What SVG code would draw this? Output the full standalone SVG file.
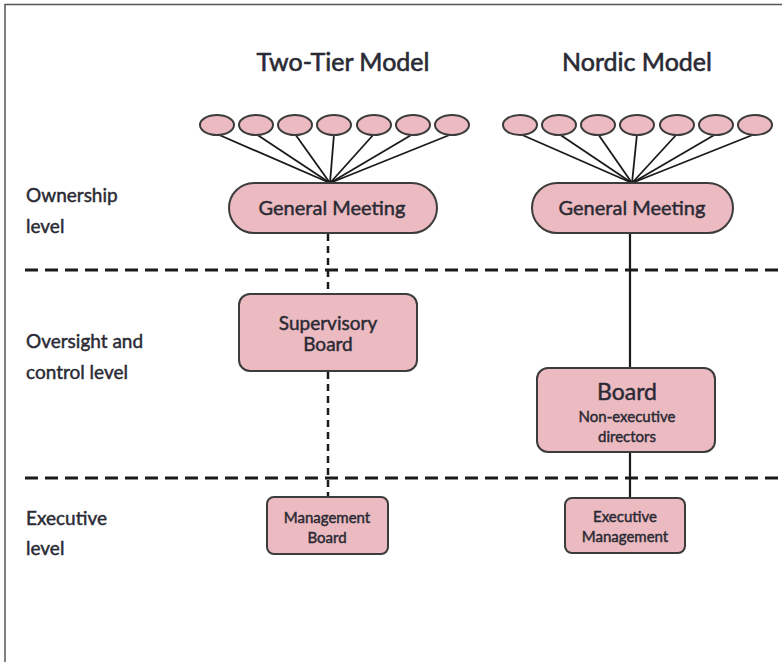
<svg xmlns="http://www.w3.org/2000/svg" width="782" height="662" viewBox="0 0 782 662">
<style>
.bg{fill:#fff}
.frame{fill:none;stroke:#555;stroke-width:1.5}
.node{fill:#ecbac1;stroke:#3c3c3c;stroke-width:2}
.t{font-family:"Lato","Liberation Sans",sans-serif;fill:#2a2a34;stroke:#2a2a34;stroke-width:0.45;text-anchor:middle}
.lbl{font-family:"Lato","Liberation Sans",sans-serif;fill:#2a2a34;stroke:#2a2a34;stroke-width:0.45;font-size:19px}
.title{font-size:25px;stroke-width:0.6}
.sep{stroke:#1a1a1a;stroke-width:3;stroke-dasharray:13 7;fill:none}
.link{stroke:#1a1a1a;stroke-width:1.8;fill:none}
.vdash{stroke:#1a1a1a;stroke-width:2.5;stroke-dasharray:7 5;fill:none}
.vsolid{stroke:#1a1a1a;stroke-width:2.2;fill:none}
</style>
<rect class="bg" x="0" y="0" width="782" height="662"/>
<path class="frame" d="M5,662 V4.5 H782"/>

<g id="titles">
<text class="t title" x="343" y="71">Two-Tier Model</text>
<text class="t title" x="637" y="71">Nordic Model</text>
</g>

<g id="level-labels">
<text class="lbl" x="26" y="202">Ownership</text>
<text class="lbl" x="26" y="233">level</text>
<text class="lbl" x="26" y="348">Oversight and</text>
<text class="lbl" x="26" y="379">control level</text>
<text class="lbl" x="26" y="525">Executive</text>
<text class="lbl" x="26" y="555">level</text>
</g>

<g id="connectors">
<line class="sep" x1="25" y1="270" x2="782" y2="270"/>
<line class="sep" x1="25" y1="478" x2="782" y2="478"/>
<g id="tt-fan">
<line class="link" x1="217" y1="134" x2="330" y2="183"/>
<line class="link" x1="256" y1="134" x2="330" y2="183"/>
<line class="link" x1="295" y1="134" x2="330" y2="183"/>
<line class="link" x1="334" y1="134" x2="330" y2="183"/>
<line class="link" x1="374" y1="134" x2="330" y2="183"/>
<line class="link" x1="413" y1="134" x2="330" y2="183"/>
<line class="link" x1="452" y1="134" x2="330" y2="183"/>
</g>
<g id="nd-fan">
<line class="link" x1="520" y1="134" x2="632" y2="183"/>
<line class="link" x1="559" y1="134" x2="632" y2="183"/>
<line class="link" x1="598" y1="134" x2="632" y2="183"/>
<line class="link" x1="637" y1="134" x2="632" y2="183"/>
<line class="link" x1="677" y1="134" x2="632" y2="183"/>
<line class="link" x1="716" y1="134" x2="632" y2="183"/>
<line class="link" x1="755" y1="134" x2="632" y2="183"/>
</g>
<line class="vdash" x1="328" y1="234" x2="328" y2="294"/>
<line class="vdash" x1="328" y1="372" x2="328" y2="497"/>
<line class="vsolid" x1="630" y1="234" x2="630" y2="368"/>
<line class="vsolid" x1="630" y1="452" x2="630" y2="498"/>
</g>

<g id="tt-owners">
<ellipse class="node" cx="217" cy="125" rx="17" ry="10"/>
<ellipse class="node" cx="256" cy="125" rx="17" ry="10"/>
<ellipse class="node" cx="295" cy="125" rx="17" ry="10"/>
<ellipse class="node" cx="334" cy="125" rx="17" ry="10"/>
<ellipse class="node" cx="374" cy="125" rx="17" ry="10"/>
<ellipse class="node" cx="413" cy="125" rx="17" ry="10"/>
<ellipse class="node" cx="452" cy="125" rx="17" ry="10"/>
</g>
<g id="nd-owners">
<ellipse class="node" cx="520" cy="125" rx="17" ry="10"/>
<ellipse class="node" cx="559" cy="125" rx="17" ry="10"/>
<ellipse class="node" cx="598" cy="125" rx="17" ry="10"/>
<ellipse class="node" cx="637" cy="125" rx="17" ry="10"/>
<ellipse class="node" cx="677" cy="125" rx="17" ry="10"/>
<ellipse class="node" cx="716" cy="125" rx="17" ry="10"/>
<ellipse class="node" cx="755" cy="125" rx="17" ry="10"/>
</g>

<g id="tt-general-meeting">
<rect class="node" x="229" y="183" width="208" height="50" rx="25"/>
<text class="t" x="332" y="215" font-size="20">General Meeting</text>
</g>
<g id="nd-general-meeting">
<rect class="node" x="532" y="183" width="201" height="50" rx="25"/>
<text class="t" x="632" y="215" font-size="20">General Meeting</text>
</g>

<g id="supervisory-board">
<rect class="node" x="239" y="294" width="178" height="77" rx="11"/>
<text class="t" x="328" y="330" font-size="19">Supervisory</text>
<text class="t" x="328" y="351" font-size="19">Board</text>
</g>
<g id="management-board">
<rect class="node" x="267" y="497" width="121" height="57" rx="7"/>
<text class="t" x="327" y="523" font-size="15">Management</text>
<text class="t" x="327" y="543" font-size="15">Board</text>
</g>

<g id="board">
<rect class="node" x="537" y="368" width="178" height="84" rx="11"/>
<text class="t" x="627" y="400" font-size="23">Board</text>
<text class="t" x="627" y="422" font-size="15">Non-executive</text>
<text class="t" x="627" y="442" font-size="15">directors</text>
</g>
<g id="executive-management">
<rect class="node" x="565" y="498" width="120" height="55" rx="7"/>
<text class="t" x="625" y="522" font-size="15">Executive</text>
<text class="t" x="625" y="542" font-size="15">Management</text>
</g>
</svg>
